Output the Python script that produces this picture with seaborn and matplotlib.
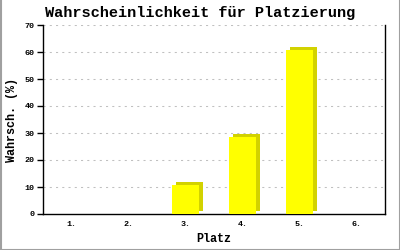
import matplotlib
matplotlib.use("Agg")
import matplotlib.pyplot as plt
import matplotlib.transforms as mtransforms
from matplotlib.lines import Line2D
import seaborn as sns
import pandas as pd

categories = ["1.", "2.", "3.", "4.", "5.", "6."]
values = [0, 0, 10.7, 28.6, 60.8, 0]
y_ticks = [0, 10, 20, 30, 40, 50, 60, 70]

title = "Wahrscheinlichkeit für Platzierung"
xlabel = "Platz"
ylabel = "Wahrsch. (%)"

sns.set_theme(style="white")
font = ["Liberation Mono", "DejaVu Sans Mono"]
plt.rcParams["font.family"] = font
plt.rcParams["text.color"] = "black"
plt.rcParams["axes.labelcolor"] = "black"
plt.rcParams["xtick.color"] = "black"
plt.rcParams["ytick.color"] = "black"

df = pd.DataFrame({"Platz": categories, "Wert": values})

fig = plt.figure(figsize=(4, 2.5), dpi=100)
ax = fig.add_axes([43 / 400, 36 / 250, 342 / 400, 189 / 250])

# shadow / depth bars
sns.barplot(data=df, x="Platz", y="Wert", order=categories, color="#d2d200",
            saturation=1, width=0.47, ax=ax, linewidth=0, zorder=2)
n_shadow = len(ax.patches)
offset = mtransforms.ScaledTranslation(4 / 100, 3 / 100, fig.dpi_scale_trans)
for p in ax.patches[:n_shadow]:
    p.set_transform(ax.transData + offset)
    p.set_clip_on(False)

# front bars
sns.barplot(data=df, x="Platz", y="Wert", order=categories, color="#ffff00",
            saturation=1, width=0.47, ax=ax, linewidth=0, zorder=3)

ax.set_xlim(-0.5, len(categories) - 0.5)
ax.set_ylim(0, 70)
ax.set_yticks(y_ticks)
ax.set_yticklabels([str(t) for t in y_ticks])

for t in y_ticks[1:]:
    ax.axhline(t, color="#c0c0c0", linewidth=0.75, linestyle=(0, (2, 4)), zorder=1)

for s in ["left", "bottom", "right"]:
    ax.spines[s].set_visible(True)
    ax.spines[s].set_color("black")
    ax.spines[s].set_linewidth(1.0)
ax.spines["top"].set_visible(False)

ax.tick_params(axis="y", which="both", left=True, length=4, width=1, color="black",
               labelsize=6, pad=2, labelcolor="black")
ax.tick_params(axis="x", bottom=False, length=0, labelsize=6, pad=5, labelcolor="black")
for lbl in ax.get_xticklabels() + ax.get_yticklabels():
    lbl.set_fontweight("bold")

ax.set_xlabel(xlabel, fontsize=8.5, fontweight="bold", color="black")
ax.xaxis.set_label_coords(0.5, -25 / 189)
ax.xaxis.label.set_va("center")
ax.set_ylabel(ylabel, fontsize=8.5, fontweight="bold", color="black")
ax.yaxis.set_label_coords(-31 / 342, 0.5)
ax.yaxis.label.set_va("center")
fig.text(0.5, 1 - 13 / 250, title, fontsize=11, fontweight="bold", color="black",
         ha="center", va="center")

border = "#a0a0a0"
fig.add_artist(Line2D([0.5 / 400, 0.5 / 400], [0, 1], color=border, linewidth=1.5, transform=fig.transFigure))
fig.add_artist(Line2D([399.5 / 400, 399.5 / 400], [0, 1], color=border, linewidth=1.5, transform=fig.transFigure))
fig.add_artist(Line2D([0, 1], [0.5 / 250, 0.5 / 250], color=border, linewidth=1.5, transform=fig.transFigure))

fig.savefig("out.png", dpi=100)
